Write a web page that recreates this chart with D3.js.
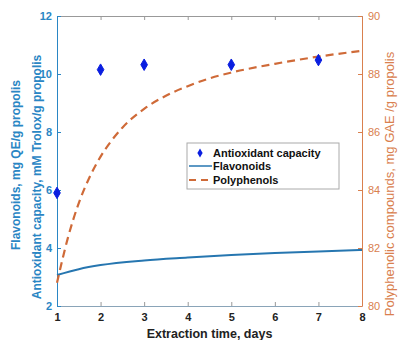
<!DOCTYPE html>
<html>
<head>
<meta charset="utf-8">
<script src="https://cdn.jsdelivr.net/npm/d3@7"></script>
<style>
  body { margin: 0; background: #fff; }
  svg { display: block; font-family: "Liberation Sans", Arial, sans-serif; }
</style>
</head>
<body>
<script>
// * DATA
const antioxDays = [1, 2, 3, 5, 7];
const antioxValues = [5.9, 10.15, 10.32, 10.32, 10.48];

const flavDays = [1, 1.5, 2, 3, 4, 5, 6, 7, 8];
const flavValues = [3.07, 3.27, 3.41, 3.57, 3.67, 3.76, 3.83, 3.88, 3.93];

const polyDays = [1, 1.25, 1.5, 1.75, 2, 2.25, 2.5, 3, 3.5, 4, 4.5, 5, 6, 7, 8];
const polyValues = [80.8, 82.35, 83.55, 84.45, 85.15, 85.7, 86.15, 86.8, 87.25, 87.58, 87.85, 88.05, 88.35, 88.6, 88.8];

const xTicks = [1, 2, 3, 4, 5, 6, 7, 8];
const leftTicks = [2, 4, 6, 8, 10, 12];
const rightTicks = [80, 82, 84, 86, 88, 90];

const legendLabels = ["Antioxidant capacity", "Flavonoids", "Polyphenols"];

// * SETUP
const width = 398, height = 340;
const margin = { top: 16, right: 36, bottom: 34, left: 57 };
const blue = "#2a86c4", orange = "#d9804e";
const lineBlue = "#2676b0", lineOrange = "#cf6a38";

const x = d3.scaleLinear().domain([1, 8]).range([margin.left, width - margin.right]);
const yL = d3.scaleLinear().domain([2, 12]).range([height - margin.bottom, margin.top]);
const yR = d3.scaleLinear().domain([80, 90]).range([height - margin.bottom, margin.top]);

const svg = d3.select("body").append("svg")
  .attr("width", width)
  .attr("height", height)
  .attr("viewBox", [0, 0, width, height]);

// * AXES
const tickFont = (g) => g.selectAll("text").attr("font-size", 11).attr("font-family", "Liberation Sans, Arial, sans-serif");

// top border
svg.append("g")
  .attr("transform", `translate(0,${margin.top})`)
  .call(d3.axisTop(x).tickValues(xTicks).tickSizeInner(-4).tickSizeOuter(0).tickFormat(""))
  .call((g) => g.select(".domain").attr("stroke", "#999"))
  .call((g) => g.selectAll(".tick line").attr("stroke", "#999"));

svg.append("g")
  .attr("transform", `translate(0,${height - margin.bottom})`)
  .call(d3.axisBottom(x).tickValues(xTicks).tickSizeInner(-4).tickSizeOuter(0).tickPadding(7).tickFormat(d3.format("d")))
  .call(tickFont)
  .call((g) => g.select(".domain").attr("stroke", "#8aa4b8"))
  .call((g) => g.selectAll(".tick line").attr("stroke", "#999"))
  .call((g) => g.selectAll("text").attr("font-weight", "bold").attr("fill", "#222"));

svg.append("g")
  .attr("transform", `translate(${margin.left},0)`)
  .call(d3.axisLeft(yL).tickValues(leftTicks).tickSizeInner(-4).tickSizeOuter(0).tickPadding(5))
  .call(tickFont)
  .call((g) => g.select(".domain").attr("stroke", blue))
  .call((g) => g.selectAll(".tick line").attr("stroke", blue))
  .call((g) => g.selectAll("text").attr("font-weight", "bold").attr("fill", blue));

svg.append("g")
  .attr("transform", `translate(${width - margin.right},0)`)
  .call(d3.axisRight(yR).tickValues(rightTicks).tickSizeInner(-4).tickSizeOuter(0).tickPadding(6))
  .call(tickFont)
  .call((g) => g.select(".domain").attr("stroke", orange))
  .call((g) => g.selectAll(".tick line").attr("stroke", orange))
  .call((g) => g.selectAll("text").attr("fill", orange));

// * LABELS
svg.append("text")
  .attr("x", x(4.5)).attr("y", 338)
  .attr("text-anchor", "middle")
  .attr("font-size", 12.5).attr("font-weight", "bold").attr("fill", "#222")
  .text("Extraction time, days");

svg.append("text")
  .attr("transform", "translate(20,165) rotate(-90)")
  .attr("text-anchor", "middle")
  .attr("font-size", 12).attr("font-weight", "bold").attr("fill", blue)
  .text("Flavonoids, mg QE/g propolis");

svg.append("text")
  .attr("transform", "translate(41,177) rotate(-90)")
  .attr("text-anchor", "middle")
  .attr("font-size", 12).attr("font-weight", "bold").attr("fill", blue)
  .text("Antioxidant capacity, mM Trolox/g propolis");

svg.append("text")
  .attr("transform", "translate(394,184) rotate(-90)")
  .attr("text-anchor", "middle")
  .attr("font-size", 13).attr("fill", orange)
  .text("Polyphenolic compounds, mg GAE /g propolis");

// * SERIES
const flavLine = d3.line()
  .x((d, i) => x(flavDays[i]))
  .y((d) => yL(d))
  .curve(d3.curveMonotoneX);

svg.append("path")
  .datum(flavValues)
  .attr("fill", "none")
  .attr("stroke", lineBlue)
  .attr("stroke-width", 2)
  .attr("d", flavLine);

const polyLine = d3.line()
  .x((d, i) => x(polyDays[i]))
  .y((d) => yR(d))
  .curve(d3.curveMonotoneX);

svg.append("path")
  .datum(polyValues)
  .attr("fill", "none")
  .attr("stroke", lineOrange)
  .attr("stroke-width", 2.2)
  .attr("stroke-dasharray", "8,5")
  .attr("d", polyLine);

const diamond = d3.symbol().type(d3.symbolDiamond).size(38);

svg.append("g")
  .selectAll("path")
  .data(antioxValues)
  .join("path")
  .attr("transform", (d, i) => `translate(${x(antioxDays[i])},${yL(d)})`)
  .attr("d", diamond)
  .attr("fill", "#0a1ee0")
  .attr("stroke", "#0a1ee0")
  .attr("stroke-width", 1)
  .attr("stroke-linejoin", "round");

// * LEGEND
const legend = svg.append("g").attr("transform", "translate(187,143)");
legend.append("rect")
  .attr("width", 152).attr("height", 46)
  .attr("fill", "#fff").attr("stroke", "#aaa").attr("stroke-width", 1);

const rowY = [10, 23, 37];
legend.append("path")
  .attr("transform", `translate(13,${rowY[0]})`)
  .attr("d", d3.symbol().type(d3.symbolDiamond).size(24))
  .attr("fill", "#0a1ee0");
legend.append("line")
  .attr("x1", 2).attr("x2", 25).attr("y1", rowY[1]).attr("y2", rowY[1])
  .attr("stroke", lineBlue).attr("stroke-width", 1.5);
legend.append("line")
  .attr("x1", 2).attr("x2", 25).attr("y1", rowY[2]).attr("y2", rowY[2])
  .attr("stroke", lineOrange).attr("stroke-width", 2).attr("stroke-dasharray", "7,5");

legend.selectAll("text.lbl")
  .data(legendLabels)
  .join("text")
  .attr("class", "lbl")
  .attr("x", 26)
  .attr("y", (d, i) => rowY[i] + 4)
  .attr("font-size", 11).attr("font-weight", "bold").attr("fill", "#111")
  .text((d) => d);
</script>
</body>
</html>
